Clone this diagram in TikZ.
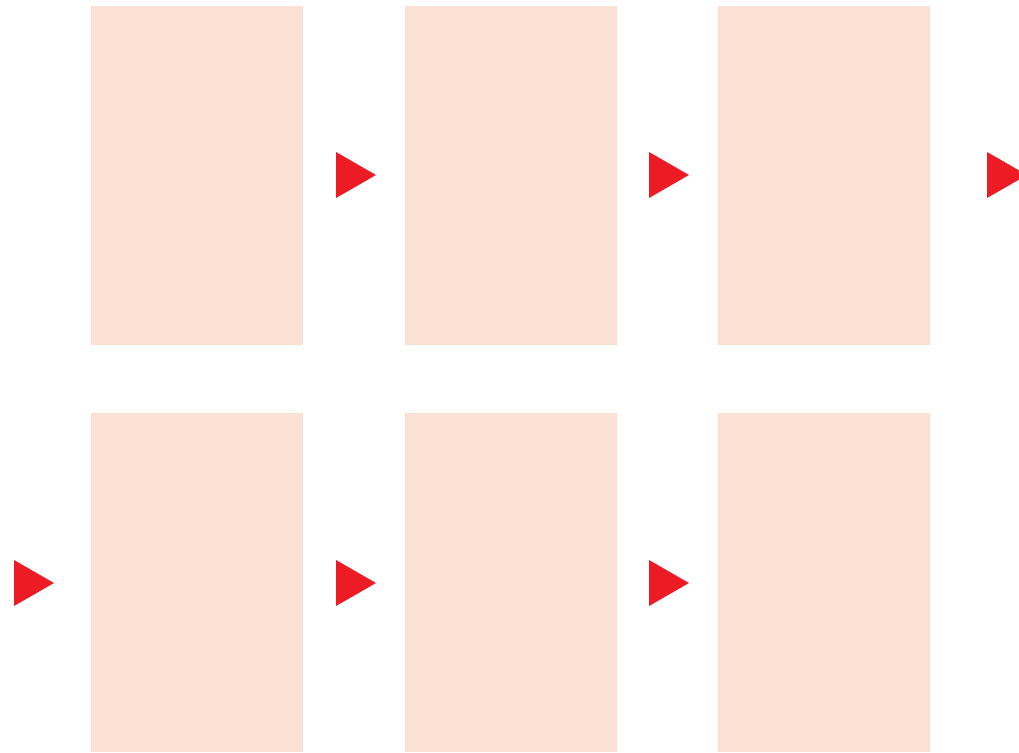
\documentclass[tikz,border=0pt]{standalone}
\usetikzlibrary{positioning}
\definecolor{panelfill}{HTML}{FBE0D4}
\definecolor{arrowred}{HTML}{ED1C24}

\begin{document}
\begin{tikzpicture}[x=0.02cm,y=-0.02cm,
  panel/.style={fill=panelfill, draw=none, minimum width=4.24cm, minimum height=6.78cm, inner sep=0pt, outer sep=0pt},
  pointer/.style={fill=arrowred, draw=none}]
\useasboundingbox (0,0) rectangle (1019,752);
% Panels, top row then bottom row
\node[panel] (p1) at (197,175.5) {};
\node[panel, right=2.04cm of p1] (p2) {};
\node[panel, right=2.02cm of p2] (p3) {};
\node[panel] (p4) at (197,582.5) {};
\node[panel, right=2.04cm of p4] (p5) {};
\node[panel, right=2.02cm of p5] (p6) {};
% Red pointers between panels
\foreach \x/\y in {336/175,649/175,987/175,14/583,336/583,649/583} {
  \fill[pointer] (\x,\y-23) -- (\x+40,\y) -- (\x,\y+23) -- cycle;
}
\end{tikzpicture}
\end{document}
